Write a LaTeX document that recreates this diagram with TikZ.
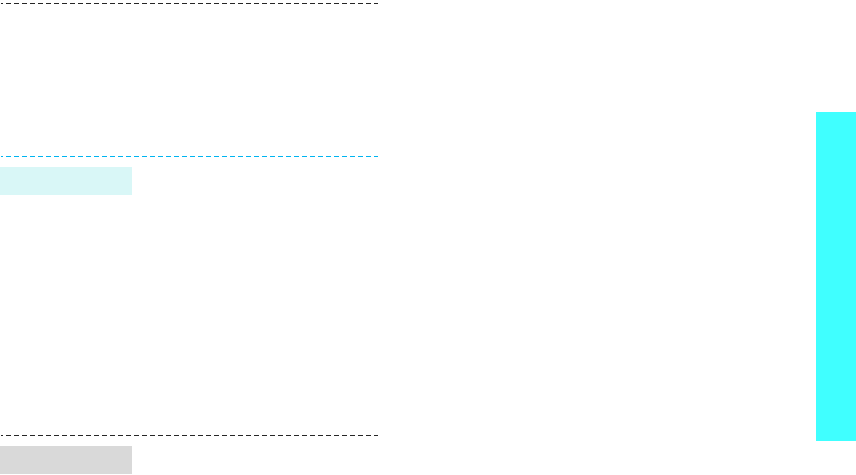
\documentclass[tikz,border=0pt]{standalone}
\usepackage{tikz}
\definecolor{sepblue}{HTML}{00B4F0}
\definecolor{tabcyan}{HTML}{D9F7F7}
\definecolor{tabgray}{HTML}{D9D9D9}
\definecolor{sidecyan}{HTML}{40FFFF}
\tikzset{
  sepline/.style={line width=1pt, dash pattern=on 5pt off 3pt, dash phase=3pt},
  tabbox/.style={draw=none, minimum width=132pt, inner sep=0pt, anchor=north west}
}
\begin{document}
\begin{tikzpicture}[x=1pt,y=-1pt]
\useasboundingbox (0,0) rectangle (856,474);
\fill[white] (0,0) rectangle (856,474);
% side cyan band
\node[fill=sidecyan, minimum width=40pt, minimum height=329pt, inner sep=0pt, anchor=north west] (side) at (816,112) {};
% separators
\coordinate (t1) at (1,3.5); \coordinate (t2) at (378,3.5);
\draw[sepline, black!85] (t1) -- (t2);
\coordinate (c1) at (1,156); \coordinate (c2) at (378,156);
\draw[sepline, sepblue] (c1) -- (c2);
\coordinate (b1) at (1,435.5); \coordinate (b2) at (378,435.5);
\draw[sepline, black!85] (b1) -- (b2);
% tab boxes
\node[tabbox, fill=tabcyan, minimum height=28pt] (tabA) at (0,167) {};
\node[tabbox, fill=tabgray, minimum height=28pt] (tabB) at (0,446) {};
\end{tikzpicture}
\end{document}
